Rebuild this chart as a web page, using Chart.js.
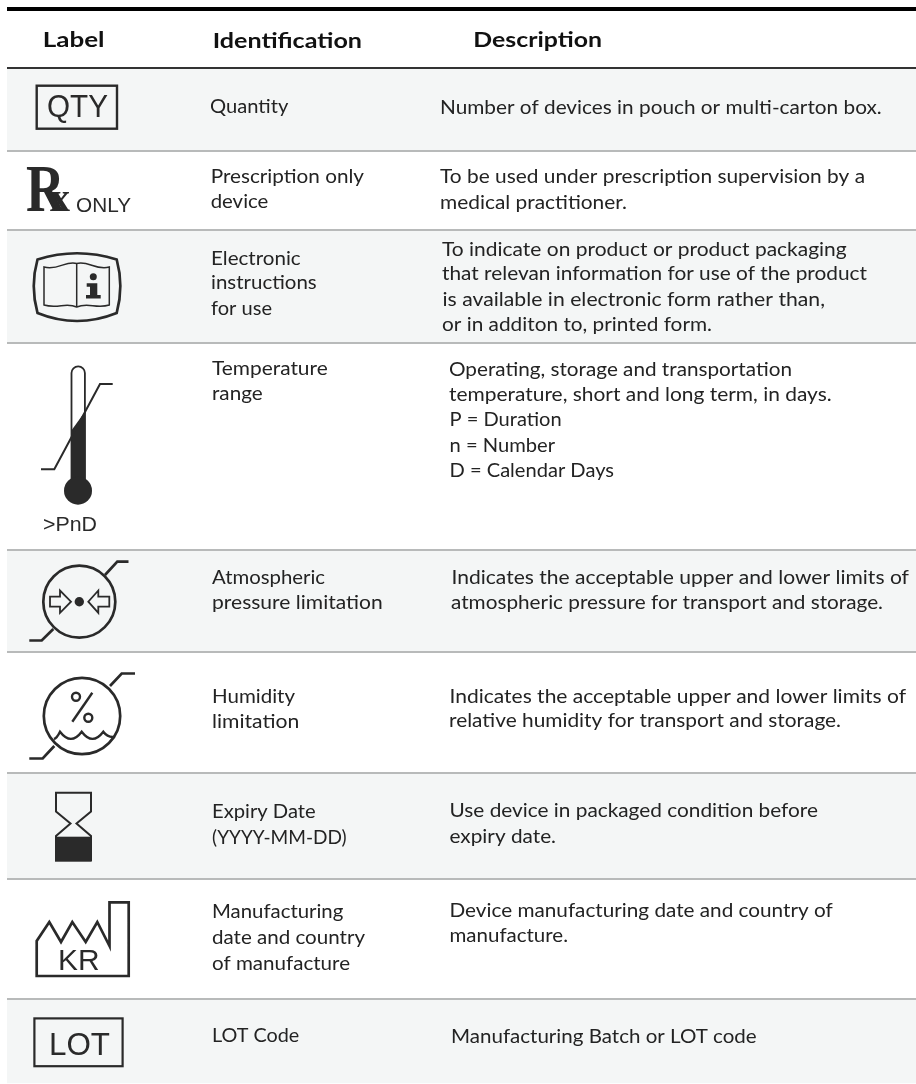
<!DOCTYPE html>
<html lang="en">
<head>
  <meta charset="UTF-8">
  <title>Label symbols</title>
  <style>
    html, body { margin: 0; padding: 0; background: #ffffff; }
    #wrap { position: relative; width: 916px; height: 1084px; }
  </style>
  <script src="https://cdn.jsdelivr.net/npm/chart.js"></script>
</head>
<body>
  <div id="wrap"><canvas id="tabla"></canvas></div>

  <script>
    // row boundaries (y axis runs 0..1084)
    const rowEdges = [68, 151, 230, 343, 550, 652, 773, 879, 999, 1083];
    const ruleEdges = [9, 68, 151, 230, 343, 550, 652, 773, 879, 999];
    const rowNames = ['QTY', 'Rx', 'eIFU', 'Temp', 'Pressure', 'Humidity', 'Expiry', 'Mfg', 'LOT'];

    const headers = ['Label', 'Identification', 'Description'];
    const identification = [
      'Quantity', 'Prescription only', 'device', 'Electronic', 'instructions', 'for use',
      'Temperature', 'range', 'Atmospheric', 'pressure limitation', 'Humidity', 'limitation',
      'Expiry Date', '(YYYY-MM-DD)', 'Manufacturing', 'date and country', 'of manufacture', 'LOT Code'
    ];
    const description = [
      'Number of devices in pouch or multi-carton box.',
      'To be used under prescription supervision by a', 'medical practitioner.',
      'To indicate on product or product packaging', 'that relevan information for use of the product',
      'is available in electronic form rather than,', 'or in additon to, printed form.',
      'Operating, storage and transportation', 'temperature, short and long term, in days.',
      'P = Duration', 'n = Number', 'D = Calendar Days',
      'Indicates the acceptable upper and lower limits of', 'atmospheric pressure for transport and storage.',
      'Indicates the acceptable upper and lower limits of', 'relative humidity for transport and storage.',
      'Use device in packaged condition before', 'expiry date.',
      'Device manufacturing date and country of', 'manufacture.',
      'Manufacturing Batch or LOT code'
    ];

    // layout only: [left, right, baseline] for each text line above
    const headerBoxes = [[42.7, 104.5, 46.7], [212.7, 362, 48], [473.3, 602, 47]];
    const identBoxes = [
      [210, 288.3, 113.3], [210.7, 364, 183.3], [210.7, 268.3, 208.3], [211, 300.7, 265], [211, 316.7, 289], [211, 272, 315],
      [212, 327.7, 375], [212, 262.7, 400], [212, 325, 584.3], [212, 382.7, 609], [212, 295, 703], [212, 299.3, 728],
      [212, 315.7, 817.7], [212, 346.7, 844], [212, 343.3, 918.3], [212, 365, 944], [212, 350, 970], [212, 299.3, 1041.7]
    ];
    const descBoxes = [
      [440, 881.7, 114], [440, 865, 182.7], [440, 627, 209],
      [442, 846.7, 255.7], [442, 867, 280], [442.5, 825, 306], [442, 712, 331],
      [449, 792, 375.7], [449, 831.7, 400.7], [449.5, 561.7, 426], [449.5, 555, 452], [449.5, 614, 477.3],
      [451.5, 909, 584], [451, 883, 609], [449.5, 906, 702.7], [449, 841, 727.3],
      [449.5, 818, 817.3], [449.5, 556, 843.3], [449.5, 832.7, 916.7], [449.5, 568, 941.7], [451, 756.7, 1043.3]
    ];

    const INK = '#2a2a2a';
    const TEXT = '#232323';

    // draws one line stretched to the measured width of the original
    function fitText(ctx, str, box, font) {
      ctx.font = font;
      const w = ctx.measureText(str).width;
      ctx.save();
      ctx.translate(box[0], box[2]);
      ctx.scale((box[1] - box[0]) / w, 1);
      ctx.fillText(str, 0, 0);
      ctx.restore();
    }

    function poly(ctx, pts, close) {
      ctx.beginPath();
      pts.forEach((p, i) => i ? ctx.lineTo(p[0], p[1]) : ctx.moveTo(p[0], p[1]));
      if (close) ctx.closePath();
    }

    function drawSymbols(ctx) {
      const sans = '"Liberation Sans"';
      ctx.strokeStyle = INK;
      ctx.fillStyle = INK;
      ctx.lineJoin = 'miter';
      ctx.textAlign = 'left';
      ctx.textBaseline = 'alphabetic';

      // QTY
      ctx.lineWidth = 2.4;
      ctx.strokeRect(36.7, 85.7, 80.3, 43);
      fitText(ctx, 'QTY', [47, 108, 117], '31px ' + sans);

      // Rx only
      ctx.save();
      ctx.translate(26, 211);
      ctx.scale(0.8, 1);
      ctx.font = 'bold 67px "Liberation Serif"';
      ctx.fillText('R', 0, 0);
      ctx.restore();
      fitText(ctx, 'x', [50, 70, 211], 'bold 40px "Liberation Serif"');
      fitText(ctx, 'ONLY', [76, 131, 212], '21px ' + sans);

      // electronic instructions book
      ctx.lineWidth = 2.7;
      ctx.beginPath();
      ctx.moveTo(37.5, 259.5);
      ctx.quadraticCurveTo(77, 247, 116.7, 259.5);
      ctx.quadraticCurveTo(124, 286, 116.7, 313);
      ctx.quadraticCurveTo(77, 329, 37.5, 313);
      ctx.quadraticCurveTo(30, 286, 37.5, 259.5);
      ctx.closePath();
      ctx.stroke();
      ctx.lineWidth = 1.5;
      ctx.beginPath();
      ctx.moveTo(44, 267);
      ctx.bezierCurveTo(58, 271, 66, 260, 76.7, 263.5);
      ctx.bezierCurveTo(88, 260, 96, 271, 109.3, 267);
      ctx.lineTo(109.3, 305);
      ctx.bezierCurveTo(96, 309, 88, 302, 76.7, 307);
      ctx.bezierCurveTo(66, 302, 58, 309, 44, 305);
      ctx.closePath();
      ctx.moveTo(76.7, 263.5);
      ctx.lineTo(76.7, 307);
      ctx.stroke();
      ctx.beginPath();
      ctx.arc(93.3, 276.7, 3.5, 0, Math.PI * 2);
      ctx.fill();
      poly(ctx, [[86.7, 283.3], [97.3, 283.3], [97.3, 295], [100.7, 295], [100.7, 298.5], [86, 298.5], [86, 295], [90, 295], [90, 286.7], [86.7, 286.7]], true);
      ctx.fill();

      // thermometer
      ctx.lineWidth = 1.8;
      ctx.beginPath();
      ctx.moveTo(71.5, 480);
      ctx.lineTo(71.5, 373);
      ctx.arc(78.2, 373, 6.7, Math.PI, 0);
      ctx.lineTo(84.9, 480);
      ctx.stroke();
      poly(ctx, [[71, 431], [85.5, 411], [85.5, 485], [71, 485]], true);
      ctx.fill();
      ctx.beginPath();
      ctx.arc(78, 490.7, 14, 0, Math.PI * 2);
      ctx.fill();
      ctx.lineWidth = 2;
      poly(ctx, [[41, 469.3], [54.3, 469.3], [100, 384], [112.7, 384]]);
      ctx.stroke();
      fitText(ctx, '>PnD', [43, 97, 530.7], '19.5px ' + sans);

      // atmospheric pressure
      ctx.lineWidth = 2.7;
      ctx.beginPath();
      ctx.arc(79.3, 601.7, 36, 0, Math.PI * 2);
      ctx.stroke();
      poly(ctx, [[105, 575], [117.3, 561.7], [128.5, 561.7]]);
      ctx.stroke();
      poly(ctx, [[53.3, 629], [41.7, 640.5], [29.3, 640.5]]);
      ctx.stroke();
      ctx.lineWidth = 1.8;
      poly(ctx, [[50, 596.7], [60, 596.7], [60, 590.5], [71, 601.7], [60, 612.9], [60, 606.7], [50, 606.7]], true);
      ctx.stroke();
      poly(ctx, [[109.3, 596.7], [98.3, 596.7], [98.3, 590.5], [88.3, 601.7], [98.3, 612.9], [98.3, 606.7], [109.3, 606.7]], true);
      ctx.stroke();
      ctx.beginPath();
      ctx.arc(79.3, 601.7, 4.7, 0, Math.PI * 2);
      ctx.fill();

      // humidity
      ctx.lineWidth = 2.7;
      ctx.beginPath();
      ctx.arc(82, 716, 38.2, 0, Math.PI * 2);
      ctx.stroke();
      poly(ctx, [[110, 686], [121.7, 673.5], [135, 673.5]]);
      ctx.stroke();
      poly(ctx, [[54.3, 746], [42.7, 758.5], [29.3, 758.5]]);
      ctx.stroke();
      ctx.lineWidth = 2.4;
      poly(ctx, [[92.3, 692.7], [72.3, 721.7]]);
      ctx.stroke();
      ctx.beginPath();
      ctx.arc(76, 696.7, 4, 0, Math.PI * 2);
      ctx.stroke();
      ctx.beginPath();
      ctx.arc(88.3, 717.7, 4, 0, Math.PI * 2);
      ctx.stroke();
      ctx.beginPath();
      ctx.moveTo(54, 739);
      ctx.quadraticCurveTo(57, 738, 60, 731.7);
      ctx.quadraticCurveTo(71, 746, 81.7, 731.7);
      ctx.quadraticCurveTo(92.5, 746, 103.3, 731.7);
      ctx.quadraticCurveTo(108, 738, 115, 736.7);
      ctx.stroke();

      // hourglass
      ctx.lineWidth = 2;
      poly(ctx, [[56, 792.7], [91, 792.7], [91, 811.5], [76.5, 823.5], [91, 836], [91, 860], [56, 860], [56, 836], [70.5, 823.5], [56, 811.5]], true);
      ctx.stroke();
      ctx.fillRect(55, 836.7, 36.7, 25);

      // factory
      ctx.lineWidth = 2.7;
      poly(ctx, [[109.5, 946], [97.3, 922], [85.7, 942], [72.3, 922], [61, 942], [49.3, 922], [36.7, 941], [36.7, 976], [128.7, 976], [128.7, 902.3], [109.5, 902.3]], true);
      ctx.stroke();
      fitText(ctx, 'KR', [58, 99.5, 970], '30px ' + sans);

      // LOT
      ctx.lineWidth = 2.2;
      ctx.strokeRect(34.4, 1018.4, 88.2, 47.8);
      fitText(ctx, 'LOT', [49, 110, 1055], '32px ' + sans);
    }

    const cellsPlugin = {
      id: 'cells',
      afterDraw(chart) {
        const ctx = chart.ctx;
        ctx.save();
        ctx.textAlign = 'left';
        ctx.textBaseline = 'alphabetic';
        ctx.fillStyle = '#111111';
        headers.forEach((t, i) => fitText(ctx, t, headerBoxes[i], 'bold 20px Lato'));
        ctx.fillStyle = TEXT;
        identification.forEach((t, i) => fitText(ctx, t, identBoxes[i], '18.5px Lato'));
        description.forEach((t, i) => fitText(ctx, t, descBoxes[i], '18.5px Lato'));
        drawSymbols(ctx);
        ctx.restore();
      }
    };

    new Chart(document.getElementById('tabla'), {
      type: 'bar',
      data: {
        labels: ['rows'],
        datasets: rowNames.map((name, i) => ({
          label: name,
          data: [[rowEdges[i], rowEdges[i + 1]]],
          backgroundColor: i % 2 === 0 ? '#f4f6f6' : '#ffffff',
          barPercentage: 1,
          categoryPercentage: 1,
          grouped: false
        }))
      },
      options: {
        responsive: true,
        maintainAspectRatio: false,
        animation: false,
        layout: { padding: { left: 7 } },
        plugins: { legend: { display: false }, tooltip: { enabled: false } },
        scales: {
          x: { display: false },
          y: {
            reverse: true,
            min: 0,
            max: 1084,
            afterBuildTicks(axis) {
              axis.ticks = ruleEdges.map(v => ({ value: v }));
            },
            afterFit(axis) { axis.width = 0; },
            ticks: { display: false, autoSkip: false },
            border: { display: false },
            grid: {
              z: 1,
              drawTicks: false,
              color: c => c.index === 0 ? '#000000' : c.index === 1 ? '#333333' : '#b8baba',
              lineWidth: c => c.index === 0 ? 4 : 2
            }
          }
        }
      },
      plugins: [cellsPlugin]
    });
  </script>
</body>
</html>
